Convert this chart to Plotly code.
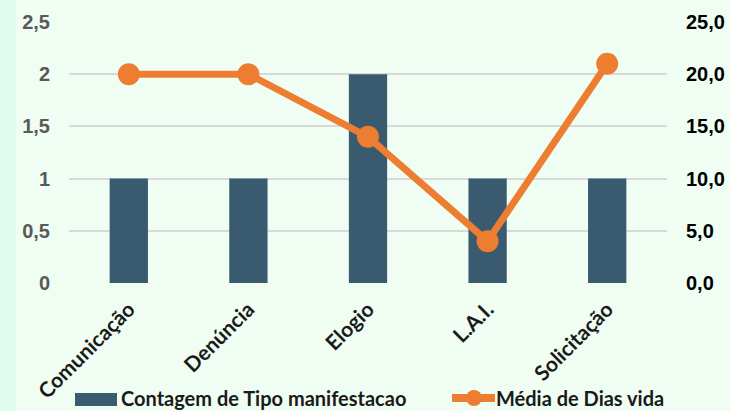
import plotly.graph_objects as go

categories = ["Comunicação", "Denúncia", "Elogio", "L.A.I.", "Solicitação"]
contagem = [1, 1, 2, 1, 1]
media_dias = [20.0, 20.0, 14.0, 4.0, 21.0]
left_ticks = [0, 0.5, 1, 1.5, 2, 2.5]
left_labels = ["0", "0,5", "1", "1,5", "2", "2,5"]
right_ticks = [0, 5, 10, 15, 20, 25]
right_labels = ["0,0", "5,0", "10,0", "15,0", "20,0", "25,0"]
bar_name = "Contagem de Tipo manifestacao"
line_name = "Média de Dias vida"

BAR_COLOR = "#3a5a70"
LINE_COLOR = "#ed7d31"
BG = "#effdf3"

# plot area in pixels: x 69..667, y 22..283
PW, PH = 598.0, 261.0
def px(x):
    return (x - 69) / PW
def py(y):
    return (283 - y) / PH

fig = go.Figure()
fig.add_trace(go.Bar(
    x=categories, y=contagem, name=bar_name,
    marker=dict(color=BAR_COLOR, line=dict(width=0)), width=0.32, yaxis="y",
))
fig.add_trace(go.Scatter(
    x=categories, y=media_dias, name=line_name,
    mode="lines+markers", line=dict(color=LINE_COLOR, width=7),
    marker=dict(color=LINE_COLOR, size=22), yaxis="y2",
))

legend_y = py(398)
shapes = [
    dict(type="rect", xref="paper", yref="paper", x0=px(0), x1=px(16), y0=-2, y1=2,
         fillcolor="#dffcee", line=dict(width=0), layer="below"),
    # manual legend symbols
    dict(type="rect", xref="paper", yref="paper", x0=px(75), x1=px(117), y0=py(406), y1=py(393),
         fillcolor=BAR_COLOR, line=dict(width=0)),
    dict(type="line", xref="paper", yref="paper", x0=px(452), x1=px(495), y0=legend_y, y1=legend_y,
         line=dict(color=LINE_COLOR, width=8)),
    dict(type="circle", xref="paper", yref="paper", xsizemode="pixel", ysizemode="pixel",
         xanchor=px(474), yanchor=legend_y, x0=-8, x1=8, y0=-8, y1=8,
         fillcolor=LINE_COLOR, line=dict(width=0)),
]
annotations = [
    dict(text=bar_name, xref="paper", yref="paper", x=px(119), y=legend_y, xanchor="left",
         yanchor="middle", showarrow=False,
         font=dict(family="Lato", size=20, color="#1a1a1a", weight="bold")),
    dict(text=line_name, xref="paper", yref="paper", x=px(494), y=legend_y, xanchor="left",
         yanchor="middle", showarrow=False,
         font=dict(family="Lato", size=20, color="#1a1a1a", weight="bold")),
]

fig.update_layout(
    width=730, height=411,
    margin=dict(l=69, r=63, t=22, b=128, autoexpand=False),
    paper_bgcolor=BG, plot_bgcolor=BG,
    showlegend=False,
    xaxis=dict(tickangle=-45, tickfont=dict(family="Lato", size=21, color="#1a1a1a", weight="bold"),
               showgrid=False, showline=False, ticks="", automargin=False, ticklabelstandoff=9),
    yaxis=dict(range=[0, 2.5], tickvals=left_ticks, ticktext=left_labels,
               tickfont=dict(family="Liberation Sans", size=20, color="#595959", weight="bold"),
               gridcolor="#d9d9d9", gridwidth=1.5, zeroline=False, ticklabelstandoff=18,
               automargin=False),
    yaxis2=dict(range=[0, 25], tickvals=right_ticks, ticktext=right_labels, overlaying="y", side="right",
                tickfont=dict(family="Liberation Sans", size=20, color="#000000", weight="bold"),
                showgrid=False, zeroline=False, ticklabelstandoff=18, automargin=False),
    shapes=shapes,
    annotations=annotations,
)

fig.write_html("out.html", config={"displayModeBar": False},
               post_script="document.body.style.margin='0';document.body.style.overflow='hidden';")
